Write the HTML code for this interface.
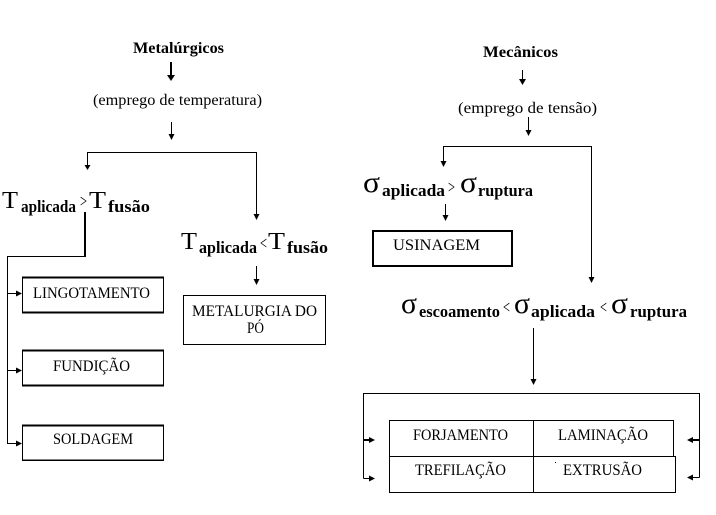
<!DOCTYPE html>
<html>
<head>
<meta charset="utf-8">
<style>
  html, body { margin: 0; padding: 0; background: #fff; }
  svg { display: block; }
  text { font-family: "Liberation Serif", "DejaVu Serif", serif; fill: #000; }
  .b { font-weight: bold; }
</style>
</head>
<body>
<svg width="716" height="515" viewBox="0 0 716 515" xmlns="http://www.w3.org/2000/svg">
  <rect x="0" y="0" width="716" height="515" fill="#fff"/>

  <!-- ============ LEFT: Metalúrgicos ============ -->
  <text class="b" x="133" y="53" font-size="16" textLength="91" lengthAdjust="spacingAndGlyphs">Metalúrgicos</text>
  <line x1="171" y1="62" x2="171" y2="76" stroke="#000" stroke-width="2"/>
  <polygon points="167,75 175,75 171,81" fill="#000"/>

  <text x="93" y="105" font-size="16" textLength="169" lengthAdjust="spacingAndGlyphs">(emprego de temperatura)</text>
  <line x1="171.5" y1="122" x2="171.5" y2="135" stroke="#000" stroke-width="1"/>
  <polygon points="168.5,134 174.5,134 171.5,140" fill="#000"/>

  <polyline points="87.5,165 87.5,152.5 256.5,152.5 256.5,215" fill="none" stroke="#000" stroke-width="1"/>
  <polygon points="84.5,165 90.5,165 87.5,170" fill="#000"/>
  <polygon points="253.5,214 259.5,214 256.5,220" fill="#000"/>

  <!-- T aplicada > T fusão -->
  <text x="2" y="208" font-size="24" textLength="16" lengthAdjust="spacingAndGlyphs">T</text>
  <text class="b" x="21" y="212" font-size="17" textLength="55" lengthAdjust="spacingAndGlyphs">aplicada</text>
  <text x="80" y="207" font-size="18" textLength="7" lengthAdjust="spacingAndGlyphs">&gt;</text>
  <text x="89" y="208" font-size="24" textLength="17" lengthAdjust="spacingAndGlyphs">T</text>
  <text class="b" x="108" y="212" font-size="17" textLength="42" lengthAdjust="spacingAndGlyphs">fusão</text>

  <!-- thick drop + left rail -->
  <line x1="85" y1="212" x2="85" y2="257" stroke="#000" stroke-width="2"/>
  <line x1="7" y1="256.5" x2="86" y2="256.5" stroke="#000" stroke-width="1"/>
  <line x1="7.5" y1="256" x2="7.5" y2="444" stroke="#000" stroke-width="1"/>

  <line x1="7.5" y1="293.5" x2="17" y2="293.5" stroke="#000" stroke-width="1"/>
  <polygon points="16,290.5 16,296.5 22,293.5" fill="#000"/>
  <line x1="7.5" y1="370.5" x2="17" y2="370.5" stroke="#000" stroke-width="1"/>
  <polygon points="16,367.5 16,373.5 22,370.5" fill="#000"/>
  <line x1="7.5" y1="443.5" x2="17" y2="443.5" stroke="#000" stroke-width="1"/>
  <polygon points="16,440.5 16,446.5 22,443.5" fill="#000"/>

  <!-- boxes left -->
  <rect x="22.5" y="278" width="141" height="34" fill="none" stroke="#000" stroke-width="1"/>
  <line x1="22" y1="277.5" x2="164" y2="277.5" stroke="#000" stroke-width="2"/>
  <line x1="22" y1="312.5" x2="164" y2="312.5" stroke="#000" stroke-width="2"/>
  <text x="33" y="298" font-size="16" textLength="117" lengthAdjust="spacingAndGlyphs">LINGOTAMENTO</text>

  <rect x="22.5" y="351" width="141" height="34" fill="none" stroke="#000" stroke-width="1"/>
  <line x1="22" y1="350.5" x2="164" y2="350.5" stroke="#000" stroke-width="2"/>
  <line x1="22" y1="385.5" x2="164" y2="385.5" stroke="#000" stroke-width="2"/>
  <text x="53" y="371" font-size="16" textLength="77" lengthAdjust="spacingAndGlyphs">FUNDIÇÃO</text>

  <rect x="22.5" y="426" width="141" height="34" fill="none" stroke="#000" stroke-width="1"/>
  <line x1="22" y1="425.5" x2="164" y2="425.5" stroke="#000" stroke-width="2"/>
  <line x1="22" y1="460.5" x2="164" y2="460.5" stroke="#000" stroke-width="1"/>
  <text x="53" y="444" font-size="16" textLength="80" lengthAdjust="spacingAndGlyphs">SOLDAGEM</text>

  <!-- T aplicada < T fusão -->
  <text x="181" y="249" font-size="24" textLength="16" lengthAdjust="spacingAndGlyphs">T</text>
  <text class="b" x="199" y="253" font-size="17" textLength="58" lengthAdjust="spacingAndGlyphs">aplicada</text>
  <text x="260" y="249" font-size="18" textLength="7" lengthAdjust="spacingAndGlyphs">&lt;</text>
  <text x="268" y="249" font-size="24" textLength="17" lengthAdjust="spacingAndGlyphs">T</text>
  <text class="b" x="287" y="253" font-size="17" textLength="41" lengthAdjust="spacingAndGlyphs">fusão</text>

  <line x1="256.5" y1="266" x2="256.5" y2="280" stroke="#000" stroke-width="1"/>
  <polygon points="253.5,279 259.5,279 256.5,285" fill="#000"/>

  <rect x="183.5" y="295.5" width="142" height="49" fill="none" stroke="#000" stroke-width="1"/>
  <text x="192" y="316" font-size="16" textLength="125" lengthAdjust="spacingAndGlyphs">METALURGIA DO</text>
  <text x="247" y="333" font-size="16" textLength="17" lengthAdjust="spacingAndGlyphs">PÓ</text>

  <!-- ============ RIGHT: Mecânicos ============ -->
  <text class="b" x="483" y="57" font-size="16" textLength="75" lengthAdjust="spacingAndGlyphs">Mecânicos</text>
  <line x1="522.5" y1="70" x2="522.5" y2="80" stroke="#000" stroke-width="1"/>
  <polygon points="519,79 526,79 522.5,85" fill="#000"/>

  <text x="458" y="113" font-size="16" textLength="139" lengthAdjust="spacingAndGlyphs">(emprego de tensão)</text>
  <line x1="528.5" y1="117" x2="528.5" y2="131" stroke="#000" stroke-width="1"/>
  <polygon points="525.5,130 531.5,130 528.5,136" fill="#000"/>

  <polyline points="443.5,162 443.5,146.5 591.5,146.5 591.5,278" fill="none" stroke="#000" stroke-width="1"/>
  <polygon points="440.5,161 446.5,161 443.5,167" fill="#000"/>
  <polygon points="588.5,277 594.5,277 591.5,283" fill="#000"/>

  <!-- σ aplicada > σ ruptura -->
  <text x="363" y="192" font-size="30" textLength="17" lengthAdjust="spacingAndGlyphs">σ</text>
  <text class="b" x="382" y="196" font-size="17" textLength="63" lengthAdjust="spacingAndGlyphs">aplicada</text>
  <text x="448" y="193" font-size="18" textLength="7" lengthAdjust="spacingAndGlyphs">&gt;</text>
  <text x="460" y="192" font-size="30" textLength="17" lengthAdjust="spacingAndGlyphs">σ</text>
  <text class="b" x="478" y="196" font-size="17" textLength="55" lengthAdjust="spacingAndGlyphs">ruptura</text>

  <line x1="445.5" y1="204" x2="445.5" y2="216" stroke="#000" stroke-width="1"/>
  <polygon points="442.5,215 448.5,215 445.5,221" fill="#000"/>

  <rect x="373" y="231" width="139" height="35" fill="none" stroke="#000" stroke-width="2"/>
  <text x="393" y="250" font-size="16" textLength="87" lengthAdjust="spacingAndGlyphs">USINAGEM</text>

  <!-- σ escoamento < σ aplicada < σ ruptura -->
  <text x="401" y="313" font-size="30" textLength="16" lengthAdjust="spacingAndGlyphs">σ</text>
  <text class="b" x="419" y="317" font-size="17" textLength="81" lengthAdjust="spacingAndGlyphs">escoamento</text>
  <text x="503" y="313" font-size="18" textLength="7" lengthAdjust="spacingAndGlyphs">&lt;</text>
  <text x="514" y="313" font-size="30" textLength="16" lengthAdjust="spacingAndGlyphs">σ</text>
  <text class="b" x="531" y="317" font-size="17" textLength="64" lengthAdjust="spacingAndGlyphs">aplicada</text>
  <text x="600" y="313" font-size="18" textLength="7" lengthAdjust="spacingAndGlyphs">&lt;</text>
  <text x="611" y="313" font-size="30" textLength="17" lengthAdjust="spacingAndGlyphs">σ</text>
  <text class="b" x="630" y="317" font-size="17" textLength="57" lengthAdjust="spacingAndGlyphs">ruptura</text>

  <line x1="533.5" y1="328" x2="533.5" y2="380" stroke="#000" stroke-width="1"/>
  <polygon points="530.5,379 536.5,379 533.5,385" fill="#000"/>

  <!-- outer bracket -->
  <polyline points="363.5,478.5 363.5,393.5 699.5,393.5 699.5,477.5" fill="none" stroke="#000" stroke-width="1"/>
  <line x1="363" y1="440" x2="370" y2="440" stroke="#000" stroke-width="2"/>
  <polygon points="369,437 369,443 375,440" fill="#000"/>
  <line x1="363.5" y1="478.5" x2="370" y2="478.5" stroke="#000" stroke-width="1"/>
  <polygon points="369,475.5 369,481.5 375,478.5" fill="#000"/>
  <line x1="692" y1="440" x2="700" y2="440" stroke="#000" stroke-width="2"/>
  <polygon points="693,437 693,443 687,440" fill="#000"/>
  <line x1="692" y1="477.5" x2="699.5" y2="477.5" stroke="#000" stroke-width="1"/>
  <polygon points="693,474.5 693,480.5 687,477.5" fill="#000"/>

  <!-- grid -->
  <rect x="389.5" y="420.5" width="284" height="36" fill="none" stroke="#000" stroke-width="1"/>
  <rect x="389.5" y="456.5" width="286" height="36" fill="none" stroke="#000" stroke-width="1"/>
  <line x1="533.5" y1="420" x2="533.5" y2="493" stroke="#000" stroke-width="1"/>

  <text x="413" y="440" font-size="16" textLength="95" lengthAdjust="spacingAndGlyphs">FORJAMENTO</text>
  <text x="558" y="440" font-size="16" textLength="90" lengthAdjust="spacingAndGlyphs">LAMINAÇÃO</text>
  <text x="415" y="475" font-size="16" textLength="91" lengthAdjust="spacingAndGlyphs">TREFILAÇÃO</text>
  <text x="563" y="475" font-size="16" textLength="79" lengthAdjust="spacingAndGlyphs">EXTRUSÃO</text>
  <rect x="555" y="462" width="1" height="1" fill="#000"/>
</svg>
</body>
</html>
